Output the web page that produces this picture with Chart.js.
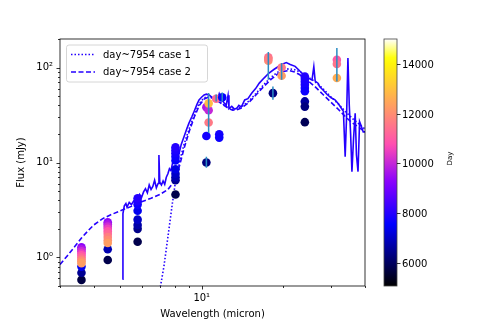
<!DOCTYPE html>
<html>
<head>
<meta charset="utf-8">
<script src="https://cdn.jsdelivr.net/npm/chart.js@4.4.0/dist/chart.umd.min.js"></script>
<style>
  html, body { margin: 0; padding: 0; background: #fff; }
</style>
</head>
<body>
<canvas id="sed" width="491" height="327"></canvas>
<script>
// photometry: wavelength (micron), flux (mJy), epoch (day)
const photWave = [
  3.6, 3.6, 3.6, 3.6, 3.6, 3.6, 3.6, 3.6, 3.6, 3.6, 3.6, 3.6,
  4.5, 4.5, 4.5, 4.5, 4.5, 4.5, 4.5, 4.5, 4.5, 4.5, 4.5,
  5.8, 5.8, 5.8, 5.8, 5.8, 5.8, 5.8, 5.8,
  8.0, 8.0, 8.0, 8.0, 8.0, 8.0, 8.0, 8.0, 8.0, 8.0,
  10.4, 10.4, 10.4, 10.6, 10.6, 10.6, 11.3, 11.6, 11.6, 11.9,
  17.6, 17.6, 17.6, 18.3, 19.7, 19.7,
  24.0, 24.0, 24.0, 24.0, 24.0, 24.0, 24.0, 24.0, 24.0,
  31.5, 31.5, 31.5
];
const photFlux = [
  0.58, 0.69, 0.80, 1.28, 1.22, 1.16, 1.10, 1.05, 1.00, 0.95, 0.91, 0.87,
  0.94, 1.22, 2.35, 2.24, 2.12, 2.00, 1.88, 1.76, 1.64, 1.52, 1.42,
  1.46, 2.00, 2.20, 2.50, 3.10, 3.60, 3.90, 4.20,
  4.6, 6.5, 7.0, 7.6, 8.5, 10.5, 11.5, 12.5, 13.5, 14.5,
  10.0, 19.0, 38.3, 35.5, 26.4, 42.0, 47.0, 19.8, 18.3, 48.5,
  128, 118, 124, 53.8, 100, 82,
  80.6, 76, 71, 66, 61, 56.3, 44, 38.8, 26.6,
  121, 109, 77.6
];
const photDay = [
  5700, 6500, 7400, 9300, 9700, 10100, 10500, 10900, 11300, 11700, 12000, 12300,
  5800, 6800, 9300, 9700, 10100, 10500, 10900, 11300, 11700, 12000, 12300,
  5800, 6400, 6700, 7000, 7400, 7700, 7900, 8000,
  5800, 6500, 6800, 7000, 7300, 7600, 7700, 7800, 7900, 8000,
  6300, 7800, 9700, 10000, 11600, 12900, 11300, 7800, 7700, 7600,
  11400, 12000, 11700, 6300, 11600, 12300,
  8000, 7950, 7900, 7850, 7800, 7700, 6600, 6300, 5900,
  11000, 11500, 12600
];

// error bars
const errWave = [10.4, 10.6, 11.3, 11.9, 17.6, 18.3, 19.7, 31.5];
const errLow  = [8.8, 20.5, 44, 44, 74.5, 45.7, 74.5, 71.5];
const errHigh = [11.5, 54, 52, 54.5, 146, 63, 112, 161];

// model case 1 (dotted)
const case1Wave = [7.0, 7.25, 7.56, 7.8, 8.0, 8.3, 8.6, 9.0, 9.4, 9.8, 10.2, 10.6, 11.0, 11.5, 12.0, 12.5, 13.0, 13.5, 14.0,
  15.0, 16.0, 17.0, 18.0, 19.0, 20.0, 21.0, 22.0, 23.0, 24.0, 26.0, 28.0, 30.0, 32.0, 34.0, 36.0, 38.0, 40.0];
const case1Flux = [0.45, 0.8, 1.94, 3.8, 6.3, 10.5, 15.5, 23, 32, 42, 48, 50, 48, 45, 41, 38, 36.5, 37, 38.5,
  45, 55, 67, 79, 89, 95, 97, 95, 90, 84, 72, 60, 49, 41, 34, 29, 25.5, 22.5];

// model case 2 (dashed)
const case2Wave = [3.0, 3.2, 3.4, 3.6, 3.8, 4.0, 4.3, 4.6, 5.0, 5.5, 6.0, 6.5, 7.0, 7.5, 8.0, 8.3, 8.6, 9.0, 9.4, 9.8,
  10.2, 10.6, 11.0, 11.5, 12.0, 12.5, 13.0, 13.5, 14.0, 15.0, 16.0, 17.0, 18.0, 19.0, 20.0, 21.0, 22.0, 23.0, 24.0,
  26.0, 28.0, 30.0, 32.0, 34.0, 36.0, 38.0, 40.0];
const case2Flux = [0.84, 1.05, 1.3, 1.6, 1.9, 2.2, 2.55, 2.8, 3.1, 3.45, 3.85, 4.2, 4.6, 5.2, 6.6, 9.5, 14, 21.5, 30.5, 40,
  46.5, 49, 47.5, 44, 40.5, 37.5, 35.5, 36, 37.5, 43.5, 53, 64, 75, 85, 91, 93, 90, 84, 77,
  64, 52, 43, 36, 30, 26, 23.5, 21];

// spectrum (solid)
const specWave = [5.10, 5.12, 5.18, 5.25, 5.3, 5.4, 5.5, 5.6, 5.7, 5.8, 5.9, 6.0, 6.1, 6.2, 6.3, 6.4, 6.5, 6.6, 6.7, 6.8,
  6.9, 6.95, 7.0, 7.1, 7.2, 7.3, 7.4, 7.5, 7.6, 7.7, 7.8, 7.9, 8.0, 8.1, 8.25, 8.4, 8.6, 8.8, 8.97, 9.2,
  9.37, 9.6, 9.77, 10.0, 10.2, 10.4, 10.65, 10.9, 11.1, 11.3, 11.45, 11.6, 11.8, 12.1, 12.3, 12.5, 12.6, 12.9, 13.2, 13.5,
  13.7, 14.0, 14.4, 14.8, 15.3, 15.8, 16.3, 17.0, 17.7, 18.5, 19.3, 20.0, 20.5, 21.2, 22.1, 23.0, 24.0, 24.6, 25.0, 25.5,
  25.9, 26.2, 26.9, 27.2, 28.0, 29.0, 30.0, 31.0, 32.0, 33.0, 33.3, 33.8, 34.2, 34.6, 35.0, 35.4, 35.8, 36.3, 36.8, 37.2,
  37.7, 38.2, 38.8, 39.4, 40.0];
const specFlux = [0.59, 2.9, 3.5, 3.7, 3.4, 3.8, 3.6, 3.9, 4.1, 3.9, 4.6, 4.3, 4.9, 5.3, 4.8, 5.8, 5.2, 5.6, 6.5, 5.4,
  6.0, 12.0, 6.2, 5.8, 6.4, 5.9, 7.0, 7.6, 8.6, 8.2, 9.8, 10.7, 11.2, 11.8, 12.5, 15.5, 18.7, 22.5, 26, 30.5,
  34.5, 41, 45.7, 49, 51.5, 52.5, 51.5, 48.5, 45.7, 49, 46, 53, 47, 42.4, 40, 51, 37, 39, 36.5, 37.5,
  40, 38.5, 45.6, 47, 54, 60, 68.6, 78, 87.6, 96, 104, 110, 113, 108, 103, 92, 82, 78, 76, 74,
  102, 72, 68, 63, 58, 52, 48, 45.8, 41, 36, 34.5, 11.5, 30, 126, 40, 20, 8.0, 18, 33, 12,
  8.0, 27, 24, 21, 21];

const xTicks = [10];
const yTicks = [1, 10, 100];
const xMinor = [3, 4, 5, 6, 7, 8, 9, 20, 30, 40];
const yMinor = [0.5, 0.6, 0.7, 0.8, 0.9, 2, 3, 4, 5, 6, 7, 8, 9, 20, 30, 40, 50, 60, 70, 80, 90, 200];
const cbTicks = [6000, 8000, 10000, 12000, 14000];
const cbMin = 5060, cbMax = 15020;

const legendLabels = ["day~7954 case 1", "day~7954 case 2"];
const SUP = { 1: "10\u2070", 10: "10\u00b9", 100: "10\u00b2" };
const FONT = "'DejaVu Sans', sans-serif";
const LINE_COL = "#2400ff";
const ERR_COL = "#2a8cc4";

// matplotlib gnuplot2
function gnuplot2(t) {
  t = Math.min(1, Math.max(0, t));
  const cl = v => Math.round(255 * Math.min(1, Math.max(0, v)));
  const r = t / 0.32 - 0.78125;
  const g = 2 * t - 0.84;
  let b;
  if (t < 0.25) b = 4 * t;
  else if (t < 0.42) b = 1;
  else if (t < 0.92) b = -2 * t + 1.84;
  else b = t / 0.08 - 11.5;
  return `rgb(${cl(r)},${cl(g)},${cl(b)})`;
}
const dayColor = d => gnuplot2((d - cbMin) / (cbMax - cbMin));

const pairs = (xs, ys) => xs.map((x, i) => ({ x, y: ys[i] }));
const errData = [];
errWave.forEach((w, i) => {
  errData.push({ x: w, y: errLow[i] }, { x: w, y: errHigh[i] }, { x: w, y: null });
});

const extras = {
  id: "extras",
  afterDraw(chart) {
    const { ctx, chartArea: a, scales: { x, y } } = chart;
    ctx.save();
    // frame
    ctx.strokeStyle = "#000";
    ctx.lineWidth = 0.8;
    ctx.strokeRect(a.left, a.top, a.right - a.left, a.bottom - a.top);
    // tick marks
    const tick = (x1, y1, x2, y2) => { ctx.beginPath(); ctx.moveTo(x1, y1); ctx.lineTo(x2, y2); ctx.stroke(); };
    xTicks.forEach(v => { const p = Math.round(x.getPixelForValue(v)) + 0.5; tick(p, a.bottom, p, a.bottom + 3.5); });
    xMinor.forEach(v => { const p = Math.round(x.getPixelForValue(v)) + 0.5; tick(p, a.bottom, p, a.bottom + 2); });
    yTicks.forEach(v => { const p = Math.round(y.getPixelForValue(v)) + 0.5; tick(a.left, p, a.left - 3.5, p); });
    yMinor.forEach(v => {
      if (v < y.min || v > y.max) return;
      const p = Math.round(y.getPixelForValue(v)) + 0.5; tick(a.left, p, a.left - 2, p);
    });

    // legend
    const lx = 66.5, ly = 45, lw = 141, lh = 37;
    ctx.beginPath();
    ctx.roundRect(lx, ly, lw, lh, 2.5);
    ctx.fillStyle = "rgba(255,255,255,0.8)";
    ctx.fill();
    ctx.strokeStyle = "#cccccc";
    ctx.lineWidth = 0.8;
    ctx.stroke();
    const dashes = [[1.5, 2], [5, 2.5]];
    ctx.font = `10px ${FONT}`;
    ctx.textBaseline = "middle";
    legendLabels.forEach((lab, i) => {
      const yy = ly + 9.5 + i * 17.5;
      ctx.strokeStyle = LINE_COL;
      ctx.lineWidth = 1.6;
      ctx.setLineDash(dashes[i]);
      tick(71, yy, 95, yy);
      ctx.setLineDash([]);
      ctx.fillStyle = "#000";
      ctx.fillText(lab, 103, yy + 0.5);
    });

    // colorbar
    const cx = 384, cw = 13, ct = a.top, cb = a.bottom;
    const grad = ctx.createLinearGradient(0, cb, 0, ct);
    for (let k = 0; k <= 40; k++) grad.addColorStop(k / 40, gnuplot2(k / 40));
    ctx.fillStyle = grad;
    ctx.fillRect(cx, ct, cw, cb - ct);
    ctx.strokeStyle = "#444";
    ctx.lineWidth = 0.8;
    ctx.strokeRect(cx, ct, cw, cb - ct);
    const cy = d => cb - (d - cbMin) / (cbMax - cbMin) * (cb - ct);
    ctx.strokeStyle = "#000";
    ctx.fillStyle = "#000";
    ctx.textAlign = "left";
    cbTicks.forEach(d => {
      const p = Math.round(cy(d)) + 0.5;
      tick(cx + cw, p, cx + cw + 3.5, p);
      ctx.fillText(String(d), cx + cw + 5, p + 0.5);
    });
    ctx.save();
    ctx.translate(450, (ct + cb) / 2 - 4);
    ctx.rotate(-Math.PI / 2);
    ctx.font = `7px ${FONT}`;
    ctx.textAlign = "center";
    ctx.fillText("Day", 0, 0);
    ctx.restore();
    ctx.restore();
  }
};

new Chart(document.getElementById("sed"), {
  type: "scatter",
  data: {
    datasets: [
      {
        data: errData, showLine: true, spanGaps: false, borderColor: ERR_COL, borderWidth: 1.5,
        pointRadius: 0, order: 0
      },
      {
        data: pairs(photWave, photFlux), backgroundColor: photDay.map(dayColor),
        pointRadius: 4.3, borderWidth: 0, order: 1
      },
      {
        data: pairs(case2Wave, case2Flux), showLine: true, borderColor: LINE_COL, borderWidth: 1.6,
        borderDash: [5, 2.5], pointRadius: 0, order: 2
      },
      {
        data: pairs(case1Wave, case1Flux), showLine: true, borderColor: LINE_COL, borderWidth: 1.6,
        borderDash: [1.5, 2], pointRadius: 0, order: 3
      },
      {
        data: pairs(specWave, specFlux), showLine: true, borderColor: LINE_COL, borderWidth: 1.6,
        pointRadius: 0, order: 4
      }
    ]
  },
  options: {
    responsive: false,
    animation: false,
    devicePixelRatio: 1,
    events: [],
    layout: { padding: { left: 0, top: 39, right: 126, bottom: 0 } },
    plugins: { legend: { display: false }, tooltip: { enabled: false } },
    scales: {
      x: {
        type: "logarithmic", min: 3, max: 40,
        afterBuildTicks: s => { s.ticks = xTicks.map(v => ({ value: v })); },
        afterFit: s => { s.height = 41; },
        grid: { drawOnChartArea: false, drawTicks: true, tickLength: 4, color: "rgba(0,0,0,0)" },
        border: { display: false },
        ticks: { color: "#000", font: { family: FONT, size: 10 }, padding: 2, maxRotation: 0,
                 callback: v => SUP[v] || "" },
        title: { display: true, text: "Wavelength (micron)", color: "#000",
                 font: { family: FONT, size: 10 }, padding: { top: 0, bottom: 7 } }
      },
      y: {
        type: "logarithmic", min: 0.5, max: 200,
        afterBuildTicks: s => { s.ticks = yTicks.map(v => ({ value: v })); },
        afterFit: s => { s.width = 60; },
        grid: { drawOnChartArea: false, drawTicks: true, tickLength: 4, color: "rgba(0,0,0,0)" },
        border: { display: false },
        ticks: { color: "#000", font: { family: FONT, size: 10 }, padding: 3,
                 callback: v => SUP[v] || "" },
        title: { display: true, text: "Flux (mJy)", color: "#000",
                 font: { family: FONT, size: 10 }, padding: { top: 15.5, bottom: 0 } }
      }
    }
  },
  plugins: [extras]
});
</script>
</body>
</html>
